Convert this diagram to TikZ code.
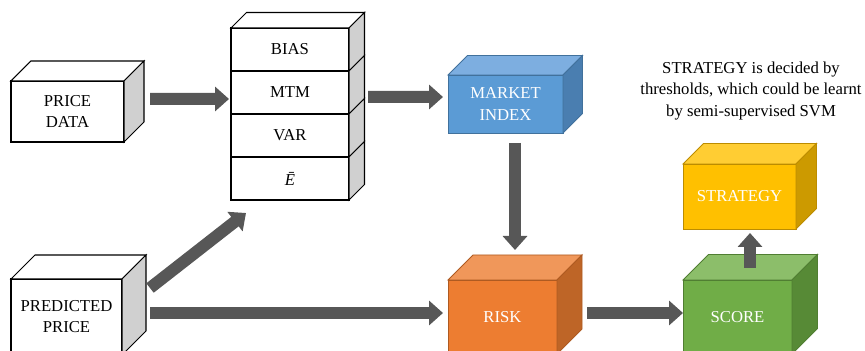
\documentclass[tikz,border=0pt]{standalone}
\usepackage{fontspec}
\setmainfont{Liberation Serif}
\usepackage{xcolor}
\usetikzlibrary{arrows.meta,positioning}

\definecolor{arrowgray}{HTML}{575757}
\definecolor{sidegray}{HTML}{D0D0D0}
\definecolor{mifront}{HTML}{5B9BD5}
\definecolor{mitop}{HTML}{7DAEE0}
\definecolor{miside}{HTML}{4A7EB0}
\definecolor{miline}{HTML}{41719C}
\definecolor{rkfront}{HTML}{ED7D31}
\definecolor{rktop}{HTML}{F0975A}
\definecolor{rkside}{HTML}{BE6527}
\definecolor{rkline}{HTML}{AE5A21}
\definecolor{scfront}{HTML}{70AD47}
\definecolor{sctop}{HTML}{8CBE6A}
\definecolor{scside}{HTML}{578A36}
\definecolor{scline}{HTML}{507E32}
\definecolor{stfront}{HTML}{FFC000}
\definecolor{sttop}{HTML}{FFCD33}
\definecolor{stside}{HTML}{CC9A00}
\definecolor{stline}{HTML}{BC8C00}

% top and right faces of a box drawn from its front node
\newcommand{\cubetop}[4]{%
  \filldraw[fill=#3, draw=#4] (#1.north west) -- ++(#2,#2) -- ([shift={(#2,#2)}]#1.north east) -- (#1.north east) -- cycle;}
\newcommand{\cubeside}[4]{%
  \filldraw[fill=#3, draw=#4] (#1.north east) -- ++(#2,#2) -- ([shift={(#2,#2)}]#1.south east) -- (#1.south east) -- cycle;}

\begin{document}
\begin{tikzpicture}[
  font=\fontsize{9.5}{12}\selectfont,
  cube/.style={draw, outer sep=0pt, inner sep=1pt, align=center, line width=0.6pt},
  wcube/.style={cube, fill=white, draw=black},
  row/.style={wcube, minimum width=2.36cm, minimum height=0.86cm},
  mcube/.style={cube, fill=mifront, draw=miline, text=white, line width=0.5pt},
  rcube/.style={cube, fill=rkfront, draw=rkline, text=white, line width=0.5pt},
  scube/.style={cube, fill=scfront, draw=scline, text=white, line width=0.5pt},
  tcube/.style={cube, fill=stfront, draw=stline, text=white, line width=0.5pt},
  blk/.style={-{Triangle[width=0.48cm,length=0.28cm]}, line width=0.24cm, draw=arrowgray},
]
\clip (0,0) rectangle (17.3,7.02);
% === inputs ===
\node[wcube, minimum width=2.26cm, minimum height=1.22cm] (pd) at (1.35,4.79) {PRICE\\DATA};
\begin{scope}[line width=0.6pt]
\cubetop{pd}{0.4}{white}{black}
\cubeside{pd}{0.4}{sidegray}{black}
\end{scope}
\node[wcube, minimum width=2.22cm, minimum height=1.52cm] (pp) at (1.33,0.68) {PREDICTED\\PRICE};
\begin{scope}[line width=0.6pt]
\cubetop{pp}{0.48}{white}{black}
\cubeside{pp}{0.48}{sidegray}{black}
\end{scope}
% === indicator stack ===
\node[row] (bias) at (5.80,6.03) {BIAS};
\node[row, below=0pt of bias] (mtm) {MTM};
\node[row, below=0pt of mtm] (var) {VAR};
\node[row, below=0pt of var] (ebar) {\textit{\=E}};
\begin{scope}[line width=0.6pt]
\cubetop{bias}{0.31}{white}{black}
\cubeside{bias}{0.31}{sidegray}{black}
\cubeside{mtm}{0.31}{sidegray}{black}
\cubeside{var}{0.31}{sidegray}{black}
\cubeside{ebar}{0.31}{sidegray}{black}
\end{scope}
% === coloured boxes ===
\node[mcube, minimum width=2.3cm, minimum height=1.16cm] (mi) at (10.11,4.94) {MARKET\\INDEX};
\begin{scope}[line width=0.5pt]
\cubetop{mi}{0.39}{mitop}{miline}
\cubeside{mi}{0.39}{miside}{miline}
\end{scope}
\node[rcube, minimum width=2.18cm, minimum height=1.48cm] (rk) at (10.05,0.68) {RISK};
\begin{scope}[line width=0.5pt]
\cubetop{rk}{0.5}{rktop}{rkline}
\cubeside{rk}{0.5}{rkside}{rkline}
\end{scope}
\node[scube, minimum width=2.18cm, minimum height=1.48cm] (sc) at (14.75,0.68) {SCORE};
\begin{scope}[line width=0.5pt]
\cubetop{sc}{0.51}{sctop}{scline}
\cubeside{sc}{0.51}{scside}{scline}
\end{scope}
\node[tcube, minimum width=2.26cm, minimum height=1.3cm] (st) at (14.79,3.09) {STRATEGY};
\begin{scope}[line width=0.5pt]
\cubetop{st}{0.41}{sttop}{stline}
\cubeside{st}{0.41}{stside}{stline}
\end{scope}
\node[align=center] (note) at (15.02,5.2) {STRATEGY is decided by\\thresholds, which could be learnt\\by semi-supervised SVM};
% === arrows ===
\draw[blk] ([shift={(0.52,0.25)}]pd.east) -- ([shift={(-0.04,-0.13)}]mtm.west);
\draw[blk] ([shift={(0.38,-0.09)}]mtm.east) -- ([shift={(-0.1,0.14)}]mi.west);
\draw[blk] ([shift={(0.19,-0.2)}]mi.south) -- ([shift={(0.25,0.6)}]rk.north);
\draw[blk] ([shift={(0.56,0.58)}]pp.east) -- ([shift={(0.3,-0.26)}]ebar.south west);
\draw[blk] ([shift={(0.56,0.08)}]pp.east) -- ([shift={(-0.1,0.08)}]rk.west);
\draw[blk] ([shift={(0.6,0.08)}]rk.east) -- ([shift={(0,0.08)}]sc.west);
\draw[blk] ([shift={(0.25,0.24)}]sc.north) -- ([shift={(0.21,-0.08)}]st.south);
\end{tikzpicture}
\end{document}
